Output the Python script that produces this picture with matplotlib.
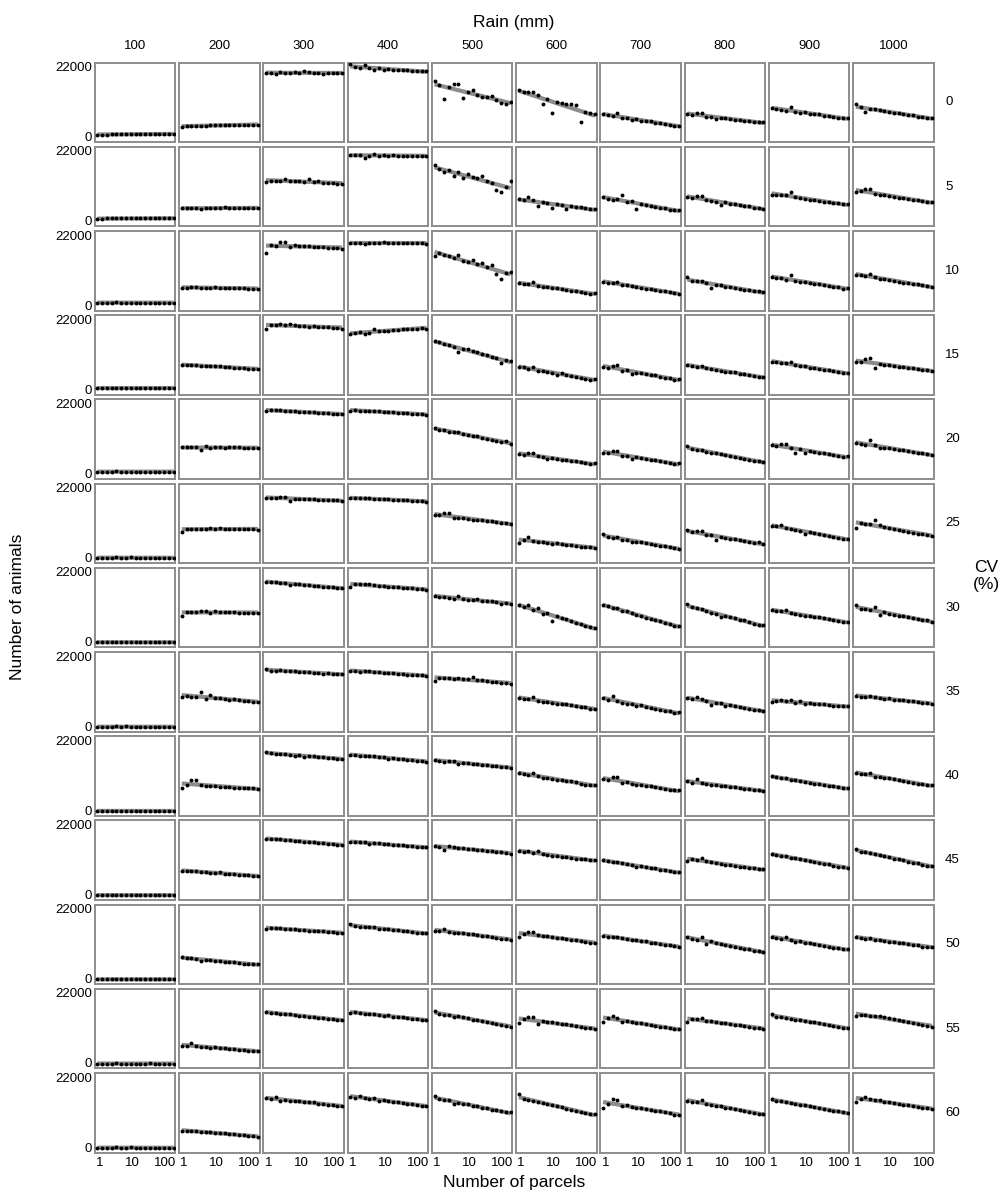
import matplotlib
matplotlib.use("Agg")
import matplotlib.pyplot as plt
import numpy as np

plt.rcParams['font.family'] = ['Liberation Sans', 'DejaVu Sans']

rain = [100, 200, 300, 400, 500, 600, 700, 800, 900, 1000]
cv = [0, 5, 10, 15, 20, 25, 30, 35, 40, 45, 50, 55, 60]
parcels = [0.85, 1.19, 1.66, 2.32, 3.24, 4.53, 6.33, 8.85, 12.4, 17.3,
           24.2, 33.8, 47.2, 66.0, 92.2, 129, 180]

# number of animals (thousands), one list per rain level, per CV row
cv0 = [
    [0.6, 0.7, 0.7, 0.8, 0.9, 0.8, 0.8, 0.8, 0.8, 0.8, 0.9, 0.8, 0.8, 0.9, 0.8, 0.9, 0.9],
    [3.0, 3.4, 3.5, 3.5, 3.5, 3.5, 3.6, 3.6, 3.6, 3.6, 3.7, 3.8, 3.7, 3.7, 3.7, 3.8, 3.8],
    [20.0, 20.1, 19.8, 20.2, 20.1, 19.9, 20.4, 20.0, 20.5, 20.2, 20.1, 20.0, 19.8, 20.1, 20.0, 19.9, 20.0],
    [22.8, 21.9, 21.6, 22.4, 21.6, 20.9, 21.5, 20.9, 21.2, 21.0, 21.1, 21.0, 20.9, 20.7, 20.7, 20.6, 20.7],
    [17.6, 16.2, 12.0, 15.6, 16.6, 16.5, 12.1, 14.0, 14.8, 13.2, 12.6, 12.4, 12.9, 11.4, 10.5, 10.4, 10.9],
    [14.7, 14.2, 13.9, 13.9, 13.0, 10.2, 12.0, 7.5, 11.0, 10.6, 10.2, 10.4, 10.1, 4.6, 7.9, 7.6, 7.2],
    [7.0, 6.8, 6.6, 7.4, 6.0, 5.9, 5.4, 5.5, 4.8, 5.1, 4.8, 4.4, 4.4, 4.0, 3.8, 3.3, 3.5],
    [7.1, 6.9, 7.5, 7.5, 6.2, 6.3, 5.5, 6.0, 5.9, 5.6, 5.4, 5.3, 5.1, 4.9, 4.6, 4.6, 4.5],
    [8.9, 8.8, 8.5, 8.2, 9.4, 7.9, 7.6, 7.7, 7.2, 7.0, 7.0, 6.6, 6.4, 6.3, 6.0, 5.8, 5.8],
    [10.2, 9.3, 7.9, 8.8, 8.6, 8.3, 8.1, 7.8, 7.5, 7.4, 7.1, 6.8, 6.7, 6.3, 6.1, 5.9, 6.0],
]
cv5 = [
    [0.7, 0.7, 0.8, 0.8, 0.9, 0.8, 0.8, 0.8, 0.8, 0.8, 0.8, 0.8, 0.8, 0.8, 0.8, 0.9, 0.9],
    [4.0, 4.0, 4.0, 4.0, 3.9, 4.0, 4.1, 4.0, 4.0, 4.3, 4.1, 4.1, 4.1, 4.0, 4.1, 4.0, 4.1],
    [12.1, 12.6, 12.7, 12.6, 13.2, 12.4, 12.6, 12.5, 12.3, 13.1, 12.3, 12.5, 12.0, 11.8, 11.9, 11.5, 11.7],
    [20.7, 20.8, 20.7, 19.9, 20.5, 21.0, 20.5, 20.6, 20.5, 20.8, 20.5, 20.5, 20.5, 20.4, 20.5, 20.3, 20.5],
    [17.6, 16.3, 15.3, 16.0, 14.2, 15.3, 13.6, 14.9, 13.7, 13.4, 14.0, 12.4, 11.9, 9.7, 9.0, 10.6, 12.7],
    [6.9, 6.6, 7.5, 6.6, 4.8, 5.8, 5.6, 4.2, 5.2, 5.1, 3.7, 4.6, 4.5, 4.3, 4.0, 3.8, 3.9],
    [7.4, 7.0, 6.7, 6.9, 8.0, 5.9, 6.2, 3.9, 5.4, 5.0, 4.6, 4.5, 4.2, 4.0, 3.6, 3.5, 3.3],
    [7.6, 7.3, 7.7, 7.8, 6.5, 6.4, 6.0, 4.9, 5.8, 5.3, 5.3, 5.0, 4.7, 4.6, 4.2, 4.1, 3.9],
    [8.3, 8.2, 8.2, 8.0, 9.0, 7.6, 7.2, 7.0, 6.6, 6.5, 6.2, 6.0, 5.9, 5.6, 5.5, 5.2, 5.2],
    [9.2, 9.3, 10.0, 9.9, 8.5, 8.0, 8.1, 7.8, 7.6, 7.3, 7.2, 6.8, 6.7, 6.5, 6.3, 6.0, 5.9],
]
cv10 = [
    [0.7, 0.8, 0.8, 0.8, 0.9, 0.8, 0.8, 0.8, 0.8, 0.8, 0.8, 0.8, 0.8, 0.8, 0.7, 0.8, 0.8],
    [5.4, 5.5, 5.6, 5.8, 5.5, 5.3, 5.4, 5.6, 5.5, 5.5, 5.4, 5.4, 5.4, 5.3, 5.1, 5.2, 5.2],
    [16.3, 18.8, 18.7, 19.8, 19.8, 18.3, 18.8, 18.7, 18.5, 18.6, 18.4, 18.2, 18.3, 18.0, 17.9, 18.1, 17.6],
    [19.5, 19.5, 19.5, 19.2, 19.5, 19.6, 19.6, 19.7, 19.5, 19.6, 19.5, 19.5, 19.6, 19.5, 19.4, 19.6, 19.3],
    [15.3, 16.4, 15.7, 15.4, 14.7, 15.8, 14.0, 13.6, 14.3, 12.8, 13.1, 12.0, 12.6, 9.8, 8.2, 10.2, 10.3],
    [6.9, 6.6, 6.5, 7.3, 6.0, 5.8, 5.6, 5.4, 5.3, 5.0, 4.8, 4.5, 4.4, 4.1, 3.8, 3.6, 3.9],
    [7.4, 7.1, 6.9, 7.3, 6.4, 6.2, 5.9, 5.7, 5.5, 5.2, 5.1, 4.8, 4.6, 4.3, 4.1, 3.7, 3.6],
    [8.7, 7.7, 7.6, 7.5, 6.9, 5.4, 6.4, 6.3, 5.8, 5.7, 5.5, 5.2, 4.9, 4.8, 4.4, 4.3, 4.0],
    [8.8, 8.5, 8.6, 8.0, 9.5, 7.6, 7.3, 7.2, 6.9, 6.7, 6.5, 6.2, 6.1, 5.8, 5.6, 5.2, 5.5],
    [9.5, 9.5, 9.3, 9.8, 8.7, 8.3, 8.1, 7.8, 7.6, 7.4, 7.1, 7.0, 6.6, 6.5, 6.2, 5.9, 5.8],
]
cv15 = [
    [0.3, 0.4, 0.4, 0.4, 0.5, 0.4, 0.4, 0.4, 0.4, 0.5, 0.4, 0.4, 0.4, 0.4, 0.4, 0.4, 0.4],
    [7.5, 7.6, 7.8, 7.5, 7.4, 7.4, 7.3, 7.2, 7.2, 7.0, 7.0, 6.8, 6.8, 6.7, 6.5, 6.4, 6.4],
    [19.0, 20.3, 20.2, 20.4, 20.1, 20.6, 20.2, 20.0, 19.9, 19.7, 19.8, 19.6, 19.6, 19.5, 19.4, 19.4, 19.1],
    [17.5, 17.7, 17.9, 17.4, 17.8, 18.9, 18.2, 18.3, 18.4, 18.5, 18.7, 18.8, 19.0, 19.0, 19.1, 19.2, 19.1],
    [15.3, 14.8, 14.3, 13.9, 13.4, 11.8, 12.6, 12.7, 11.9, 11.7, 11.0, 10.9, 10.3, 9.7, 8.4, 9.2, 8.8],
    [7.1, 6.9, 6.5, 7.0, 5.9, 5.9, 5.4, 5.2, 4.6, 5.0, 4.5, 4.3, 4.0, 3.7, 3.3, 3.0, 3.3],
    [7.1, 6.8, 7.4, 7.6, 5.9, 6.0, 4.9, 5.2, 5.0, 4.8, 4.5, 4.4, 4.0, 3.7, 3.5, 3.0, 3.3],
    [7.7, 7.4, 7.1, 7.2, 6.6, 6.3, 6.2, 5.9, 5.6, 5.4, 5.3, 4.9, 4.7, 4.5, 4.2, 4.0, 3.8],
    [8.7, 8.5, 8.3, 8.4, 8.5, 7.5, 7.2, 7.2, 6.8, 6.7, 6.4, 6.2, 6.0, 5.7, 5.5, 5.1, 5.2],
    [8.5, 8.7, 9.4, 10.0, 6.6, 8.1, 7.6, 7.6, 7.3, 7.1, 7.0, 6.8, 6.6, 6.3, 6.2, 6.0, 5.9],
]
cv20 = [
    [0.5, 0.6, 0.6, 0.6, 0.7, 0.6, 0.6, 0.6, 0.6, 0.6, 0.6, 0.6, 0.6, 0.6, 0.6, 0.6, 0.6],
    [8.2, 8.2, 8.3, 8.2, 7.4, 8.7, 8.0, 8.3, 8.2, 8.1, 8.2, 8.2, 8.2, 8.1, 8.1, 8.0, 8.1],
    [19.6, 19.8, 19.9, 20.0, 19.5, 19.6, 19.5, 19.4, 19.3, 19.3, 19.2, 19.1, 18.9, 18.9, 18.8, 18.7, 18.6],
    [19.7, 19.8, 19.7, 19.7, 19.6, 19.6, 19.5, 19.4, 19.3, 19.2, 19.1, 19.0, 18.9, 18.8, 18.7, 18.6, 18.4],
    [14.2, 13.7, 13.6, 13.2, 12.9, 12.9, 12.4, 12.2, 11.7, 11.8, 11.2, 11.0, 10.6, 10.2, 9.9, 10.1, 9.4],
    [6.2, 5.8, 6.4, 6.4, 5.4, 5.2, 4.6, 4.8, 4.6, 4.2, 4.2, 3.9, 3.8, 3.5, 3.3, 3.1, 3.3],
    [6.6, 6.4, 7.0, 7.1, 5.6, 5.5, 4.7, 5.1, 4.8, 4.6, 4.2, 4.2, 3.8, 3.6, 3.4, 3.0, 3.2],
    [8.6, 7.6, 7.5, 7.4, 6.8, 6.6, 6.3, 6.1, 5.7, 5.5, 5.3, 4.9, 4.7, 4.4, 4.1, 3.8, 3.7],
    [9.1, 8.7, 9.4, 9.3, 7.9, 6.5, 7.7, 6.4, 7.1, 6.9, 6.6, 6.3, 6.2, 5.8, 5.6, 5.3, 5.5],
    [9.6, 9.2, 9.0, 10.4, 9.1, 8.0, 8.1, 7.9, 7.6, 7.5, 7.3, 7.0, 6.8, 6.5, 6.3, 6.0, 5.9],
]
cv25 = [
    [0.0, 0.0, 0.0, 0.0, 0.1, 0.0, 0.0, 0.1, 0.0, 0.0, 0.0, 0.0, 0.0, 0.0, 0.0, 0.0, 0.0],
    [8.1, 9.0, 9.0, 9.1, 9.1, 9.1, 9.4, 9.0, 9.3, 9.1, 9.1, 9.0, 9.0, 9.0, 8.9, 8.9, 8.8],
    [18.8, 18.9, 18.8, 19.0, 19.1, 17.9, 18.5, 18.4, 18.5, 18.4, 18.3, 18.2, 18.2, 18.1, 18.0, 18.0, 17.8],
    [18.6, 18.6, 18.7, 18.8, 18.6, 18.4, 18.5, 18.4, 18.3, 18.2, 18.1, 18.1, 18.0, 17.9, 17.8, 17.8, 17.6],
    [13.3, 13.3, 14.1, 13.9, 12.6, 12.4, 12.4, 12.3, 12.0, 11.8, 11.7, 11.6, 11.4, 11.1, 11.0, 10.8, 10.7],
    [4.7, 5.6, 6.5, 5.4, 5.0, 4.9, 4.7, 4.3, 4.6, 4.2, 4.0, 4.0, 3.8, 3.5, 3.4, 3.3, 3.1],
    [7.5, 6.6, 6.3, 6.6, 5.6, 5.6, 5.0, 5.1, 4.8, 4.6, 4.4, 4.1, 3.8, 3.6, 3.3, 3.2, 2.9],
    [8.7, 8.0, 8.3, 8.3, 7.1, 7.0, 5.6, 6.5, 6.2, 6.0, 5.8, 5.5, 5.3, 5.0, 4.7, 4.9, 4.3],
    [10.1, 9.9, 10.3, 9.3, 9.0, 8.8, 8.3, 7.6, 8.0, 7.7, 7.4, 7.2, 6.8, 6.6, 6.3, 6.0, 6.0],
    [9.4, 10.9, 10.7, 10.5, 11.8, 10.2, 9.6, 9.2, 9.0, 8.8, 8.5, 8.2, 7.9, 7.6, 7.4, 7.0, 6.9],
]
cv30 = [
    [-0.1, -0.1, -0.1, -0.1, 0.0, -0.1, -0.1, -0.1, -0.1, -0.1, -0.1, -0.1, -0.1, -0.1, -0.1, -0.1, -0.1],
    [8.1, 9.4, 9.4, 9.4, 9.7, 9.7, 9.1, 9.7, 9.3, 9.5, 9.3, 9.3, 9.2, 9.2, 9.1, 9.1, 9.0],
    [18.8, 18.7, 18.9, 18.5, 18.6, 18.0, 18.2, 18.1, 17.9, 17.8, 17.6, 17.5, 17.4, 17.2, 17.1, 17.0, 16.8],
    [17.2, 18.1, 18.1, 18.2, 18.3, 18.0, 17.6, 17.7, 17.4, 17.3, 17.2, 16.8, 17.0, 16.8, 16.6, 16.5, 16.4],
    [14.4, 14.2, 14.2, 13.8, 13.6, 14.4, 13.5, 13.2, 13.3, 13.4, 12.9, 12.8, 12.7, 12.4, 12.0, 12.3, 12.0],
    [11.5, 11.0, 11.6, 10.1, 10.5, 8.7, 9.2, 6.6, 8.1, 7.4, 7.1, 6.6, 6.1, 5.5, 5.1, 4.7, 4.4],
    [11.6, 11.2, 10.7, 10.8, 9.8, 9.6, 9.0, 8.4, 8.2, 7.5, 7.3, 6.9, 6.6, 6.0, 5.5, 5.1, 5.0],
    [11.8, 10.9, 10.5, 10.3, 9.8, 9.2, 8.9, 7.8, 8.2, 7.7, 7.4, 6.9, 6.8, 6.2, 5.7, 5.4, 5.3],
    [10.0, 9.8, 9.6, 9.9, 9.0, 8.8, 8.6, 8.3, 8.0, 7.7, 7.7, 7.4, 7.1, 6.9, 6.6, 6.4, 6.2],
    [11.5, 10.4, 10.2, 10.1, 10.9, 8.6, 9.3, 8.9, 8.5, 8.2, 8.0, 7.9, 7.4, 7.2, 6.8, 6.9, 6.4],
]
cv35 = [
    [-0.2, -0.2, -0.2, -0.2, -0.1, -0.2, -0.1, -0.2, -0.2, -0.2, -0.2, -0.2, -0.2, -0.2, -0.2, -0.2, -0.2],
    [9.3, 9.4, 9.1, 9.2, 10.7, 8.6, 9.9, 8.7, 8.7, 8.5, 8.1, 8.5, 8.1, 8.0, 7.8, 7.7, 7.6],
    [17.9, 17.4, 17.4, 17.5, 17.3, 17.2, 17.3, 17.1, 17.0, 16.9, 16.6, 16.8, 16.5, 16.6, 16.4, 16.3, 16.3],
    [17.3, 17.2, 17.0, 17.4, 17.2, 17.1, 17.0, 16.8, 16.7, 16.6, 16.4, 16.3, 16.2, 16.1, 16.0, 15.9, 15.8],
    [14.3, 15.2, 15.1, 15.0, 14.9, 15.0, 14.8, 14.8, 15.3, 14.6, 14.4, 14.1, 13.9, 13.7, 13.5, 13.4, 13.2],
    [8.9, 8.6, 8.5, 9.2, 7.9, 7.7, 7.5, 7.4, 7.1, 6.9, 6.8, 6.5, 6.4, 6.0, 5.9, 5.5, 5.5],
    [8.8, 8.3, 9.6, 7.8, 7.4, 6.8, 7.0, 6.4, 6.5, 6.1, 5.8, 5.5, 5.2, 4.9, 4.6, 4.2, 4.4],
    [8.9, 8.5, 9.2, 8.5, 7.8, 6.7, 7.3, 7.2, 6.3, 6.6, 6.2, 6.0, 5.7, 5.5, 5.2, 5.0, 4.9],
    [7.6, 7.8, 8.2, 7.9, 8.1, 7.3, 7.8, 7.0, 7.2, 7.0, 6.8, 6.9, 6.6, 6.4, 6.2, 6.3, 6.2],
    [9.5, 9.3, 9.2, 9.5, 9.0, 8.8, 8.6, 8.7, 8.3, 8.3, 8.1, 8.0, 7.8, 7.5, 7.3, 7.2, 7.0],
]
cv40 = [
    [-0.2, -0.2, -0.2, -0.2, -0.1, -0.2, -0.2, -0.2, -0.1, -0.2, -0.2, -0.2, -0.2, -0.2, -0.2, -0.2, -0.2],
    [7.1, 8.1, 9.5, 9.5, 7.8, 7.6, 7.7, 7.5, 7.4, 7.3, 7.3, 7.1, 7.1, 7.0, 6.9, 6.9, 6.8],
    [18.2, 17.9, 17.8, 17.8, 17.6, 17.4, 17.0, 17.3, 16.8, 17.1, 16.9, 16.8, 16.6, 16.5, 16.4, 16.2, 16.2],
    [17.4, 17.3, 17.2, 17.0, 17.1, 16.9, 16.8, 16.6, 16.2, 16.4, 16.2, 16.0, 15.9, 15.8, 15.6, 15.4, 15.3],
    [15.7, 15.4, 15.3, 15.4, 15.6, 14.7, 15.0, 14.9, 14.6, 14.5, 14.3, 14.1, 14.0, 13.9, 13.7, 13.5, 13.3],
    [11.7, 11.4, 11.1, 11.8, 10.7, 10.3, 10.2, 9.9, 9.5, 9.6, 9.2, 9.1, 8.8, 8.3, 8.1, 8.0, 7.9],
    [9.8, 9.4, 10.5, 10.4, 8.7, 8.8, 8.2, 8.1, 7.9, 7.6, 7.5, 7.3, 7.0, 6.8, 6.5, 6.3, 6.3],
    [9.1, 8.7, 9.7, 8.5, 8.2, 8.1, 7.8, 7.7, 7.5, 7.4, 7.2, 7.1, 6.8, 6.6, 6.5, 6.3, 6.2],
    [10.7, 10.5, 10.1, 10.2, 9.6, 9.4, 9.1, 8.8, 8.6, 8.4, 8.2, 8.0, 7.7, 7.5, 7.2, 7.1, 6.9],
    [11.8, 11.5, 11.4, 11.7, 10.6, 10.5, 10.3, 10.0, 9.7, 9.5, 9.2, 8.9, 8.7, 8.4, 8.2, 7.9, 7.8],
]
cv45 = [
    [-0.2, -0.2, -0.2, -0.1, -0.2, -0.2, -0.2, -0.2, -0.2, -0.2, -0.1, -0.2, -0.2, -0.2, -0.2, -0.2, -0.2],
    [7.3, 7.4, 7.5, 7.3, 7.1, 7.0, 6.9, 6.8, 7.0, 6.6, 6.5, 6.4, 6.2, 6.1, 6.0, 5.8, 5.8],
    [17.5, 17.4, 17.3, 17.5, 17.1, 17.0, 16.8, 16.7, 16.4, 16.6, 16.4, 16.2, 16.1, 16.0, 15.8, 15.7, 15.6],
    [16.5, 16.6, 16.4, 16.4, 15.8, 16.2, 16.1, 15.9, 15.8, 15.5, 15.4, 15.4, 15.2, 15.1, 15.0, 14.9, 14.8],
    [15.1, 15.0, 14.1, 15.2, 14.9, 14.7, 14.5, 14.4, 14.3, 14.1, 13.9, 13.7, 13.6, 13.4, 13.2, 12.9, 12.8],
    [13.6, 13.4, 13.6, 13.0, 13.8, 12.6, 12.5, 12.2, 12.1, 11.9, 11.8, 11.6, 11.3, 11.1, 11.0, 10.8, 10.8],
    [10.8, 10.5, 10.3, 10.1, 9.8, 9.5, 9.2, 8.7, 9.0, 8.6, 8.2, 8.2, 7.8, 7.6, 7.3, 7.1, 7.0],
    [10.5, 11.2, 10.9, 11.5, 10.4, 10.2, 10.0, 9.6, 9.3, 9.2, 9.0, 8.7, 8.7, 8.4, 8.2, 8.0, 7.9],
    [12.7, 12.4, 12.1, 12.0, 11.6, 11.4, 11.0, 10.8, 10.6, 10.2, 10.0, 9.7, 9.5, 9.1, 8.8, 8.6, 8.4],
    [14.3, 13.5, 13.3, 12.9, 12.6, 12.4, 12.0, 11.7, 11.3, 11.0, 10.7, 10.3, 9.8, 10.0, 9.4, 9.1, 9.0],
]
cv50 = [
    [-0.2, -0.2, -0.2, -0.2, -0.1, -0.2, -0.2, -0.2, -0.2, -0.1, -0.2, -0.2, -0.2, -0.2, -0.2, -0.2, -0.2],
    [6.8, 6.5, 6.5, 6.3, 5.6, 6.0, 5.8, 5.7, 5.5, 5.3, 5.3, 5.1, 5.0, 4.7, 4.7, 4.6, 4.5],
    [15.5, 16.0, 15.8, 16.0, 15.7, 15.6, 15.5, 15.2, 15.3, 15.1, 15.0, 14.9, 15.0, 14.7, 14.6, 14.4, 14.4],
    [17.1, 16.5, 16.2, 16.3, 16.3, 16.1, 15.6, 15.7, 15.6, 15.2, 15.3, 15.1, 14.9, 14.7, 14.5, 14.3, 14.2],
    [15.0, 15.0, 15.5, 14.7, 14.5, 14.5, 14.3, 14.0, 13.9, 13.8, 13.5, 13.3, 13.1, 12.9, 12.6, 12.4, 12.3],
    [13.1, 14.1, 14.6, 14.6, 13.6, 13.3, 13.3, 13.0, 12.8, 12.7, 12.5, 12.3, 12.1, 11.8, 11.6, 11.3, 11.3],
    [13.4, 13.2, 13.2, 13.0, 12.8, 12.5, 12.1, 12.1, 11.8, 11.7, 11.3, 11.1, 10.9, 10.7, 10.5, 10.2, 10.1],
    [13.1, 12.6, 12.2, 13.0, 10.8, 11.9, 11.3, 10.8, 10.5, 10.4, 10.0, 9.8, 9.4, 9.2, 8.8, 8.7, 8.4],
    [13.1, 12.8, 12.6, 13.2, 12.2, 11.6, 11.8, 11.1, 11.1, 10.9, 10.5, 10.3, 10.1, 9.8, 9.5, 9.4, 9.2],
    [13.1, 12.8, 12.6, 12.8, 12.3, 12.0, 11.9, 11.6, 11.5, 11.3, 11.1, 10.9, 10.7, 10.5, 10.1, 10.1, 10.0],
]
cv55 = [
    [-0.2, -0.2, -0.2, -0.2, -0.1, -0.2, -0.2, -0.2, -0.2, -0.2, -0.2, -0.1, -0.2, -0.2, -0.2, -0.2, -0.2],
    [5.3, 5.4, 6.1, 5.4, 5.0, 5.1, 4.6, 4.9, 4.8, 4.6, 4.4, 4.3, 4.1, 4.0, 3.9, 3.8, 3.7],
    [15.9, 15.8, 15.6, 15.5, 15.2, 15.4, 15.0, 14.8, 14.7, 14.5, 14.4, 14.2, 14.0, 13.9, 13.7, 13.6, 13.4],
    [15.8, 15.9, 15.6, 15.5, 15.4, 15.3, 15.0, 14.8, 15.1, 14.5, 14.4, 14.3, 14.1, 13.9, 13.7, 13.5, 13.4],
    [16.2, 15.3, 15.1, 15.0, 14.4, 14.8, 14.3, 14.0, 13.6, 13.5, 13.2, 12.9, 12.6, 12.3, 12.0, 11.6, 11.4],
    [12.6, 13.8, 14.4, 14.4, 12.3, 13.2, 12.9, 12.7, 12.4, 12.1, 12.1, 11.8, 11.6, 11.3, 11.0, 10.9, 10.6],
    [13.0, 14.2, 14.6, 14.1, 13.0, 13.3, 12.9, 12.6, 12.5, 12.1, 11.9, 11.7, 11.3, 11.2, 10.9, 10.6, 10.5],
    [12.8, 13.8, 13.8, 14.0, 13.2, 13.1, 12.9, 12.6, 12.4, 12.2, 12.0, 11.8, 11.6, 11.3, 11.1, 10.9, 10.7],
    [15.3, 14.5, 14.4, 14.2, 13.9, 13.4, 13.5, 13.1, 12.9, 12.7, 12.4, 12.1, 11.9, 11.6, 11.4, 11.1, 10.9],
    [14.7, 15.1, 14.9, 14.8, 14.6, 14.6, 14.3, 14.0, 13.8, 13.5, 13.2, 12.9, 12.6, 12.3, 12.0, 11.7, 11.2],
]
cv60 = [
    [-0.2, -0.2, -0.2, -0.2, -0.1, -0.2, -0.2, -0.1, -0.2, -0.2, -0.2, -0.2, -0.2, -0.2, -0.2, -0.2, -0.2],
    [5.0, 5.2, 5.1, 5.1, 4.8, 4.8, 4.6, 4.5, 4.4, 4.3, 4.1, 4.0, 3.9, 3.7, 3.6, 3.4, 3.3],
    [15.5, 15.1, 15.6, 14.6, 14.7, 14.6, 14.5, 14.4, 14.3, 14.2, 14.2, 13.6, 13.5, 13.3, 13.1, 13.0, 12.9],
    [15.7, 15.5, 16.0, 15.4, 15.1, 15.4, 14.6, 14.9, 14.5, 14.3, 14.2, 13.9, 13.6, 13.4, 13.2, 13.0, 12.8],
    [16.2, 15.1, 14.8, 14.9, 13.4, 14.0, 13.6, 13.5, 13.0, 12.8, 12.4, 12.2, 11.8, 11.5, 11.2, 10.9, 10.9],
    [16.6, 15.0, 14.9, 14.5, 14.1, 13.8, 13.4, 13.1, 12.8, 12.5, 12.1, 11.8, 11.4, 11.1, 10.8, 10.3, 10.3],
    [12.2, 13.6, 15.0, 14.8, 12.9, 13.1, 12.7, 12.4, 12.2, 11.9, 11.7, 11.4, 11.2, 10.9, 10.6, 10.2, 10.1],
    [14.5, 14.1, 14.3, 14.9, 13.5, 13.3, 12.8, 12.8, 12.4, 12.2, 12.0, 11.7, 11.4, 11.1, 10.8, 10.4, 10.3],
    [15.0, 14.6, 14.4, 14.3, 13.9, 13.5, 13.2, 13.1, 12.8, 12.5, 12.2, 11.9, 11.7, 11.4, 11.2, 10.9, 10.7],
    [14.3, 15.0, 15.6, 15.2, 14.9, 14.8, 14.3, 14.1, 13.9, 13.5, 13.3, 13.2, 12.9, 12.6, 12.3, 12.2, 12.0],
]

animals = [cv0, cv5, cv10, cv15, cv20, cv25, cv30, cv35, cv40, cv45, cv50, cv55, cv60]

fig, axes = plt.subplots(13, 10, figsize=(9.98, 11.92), dpi=100, sharex=True, sharey=True)
fig.subplots_adjust(left=0.0949, right=0.9356, top=0.9474, bottom=0.0331,
                    wspace=0.045, hspace=0.059)

logx = np.log10(parcels)
for i, row in enumerate(animals):
    for j, vals in enumerate(row):
        ax = axes[i, j]
        y = np.array(vals) * 1000
        k, b = np.polyfit(logx, y, 1)
        ax.plot(parcels, k * logx + b, color='#8c8c8c', lw=3.0, solid_capstyle='butt', zorder=2)
        ax.plot(parcels, y, 'o', color='black', ms=2.8, mew=0, zorder=3)
        for s in ax.spines.values():
            s.set_color('#8c8c8c')
            s.set_linewidth(1.4)
        ax.tick_params(axis='x', length=0, labelsize=9.5, pad=3)
        ax.tick_params(axis='y', length=0, labelsize=9.5, pad=2)
    axes[i, -1].text(1.14, 0.5, str(cv[i]), transform=axes[i, -1].transAxes,
                     ha='left', va='center', fontsize=9.5)

axes[0, 0].set_xscale('log')
axes[0, 0].set_xlim(0.70, 204)
axes[0, 0].set_ylim(-1700, 23250)
axes[0, 0].set_xticks([1, 10, 100])
axes[0, 0].set_xticklabels(['1', '10', '100'])
axes[0, 0].xaxis.set_minor_locator(matplotlib.ticker.NullLocator())
axes[0, 0].set_yticks([0, 22000])
axes[0, 0].set_yticklabels(['0', '22000'])

for j in range(10):
    axes[0, j].text(0.5, 1.214, str(rain[j]), transform=axes[0, j].transAxes,
                    ha='center', va='center', fontsize=9.5)

fig.text(0.515, 1 - 22 / 1192, 'Rain (mm)', ha='center', va='center', fontsize=12.5)
fig.text(0.515, 1 - 1183 / 1192, 'Number of parcels', ha='center', va='center', fontsize=12.5)
fig.text(18 / 998, 1 - 607 / 1192, 'Number of animals', ha='center', va='center',
         rotation=90, fontsize=12.5)
fig.text(986 / 998, 1 - 576 / 1192, 'CV\n(%)', ha='center', va='center', fontsize=12.5,
         linespacing=1.1)

fig.savefig('out.png', dpi=100)
